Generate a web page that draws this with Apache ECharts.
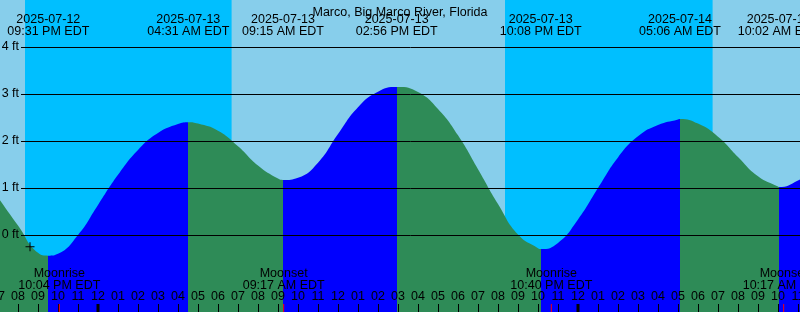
<!DOCTYPE html>
<html><head><meta charset="utf-8">
<script src="https://cdn.jsdelivr.net/npm/echarts@6/dist/echarts.min.js"></script>
<style>html,body{margin:0;padding:0;background:#87CEEB}#c{width:800px;height:312px}</style>
</head><body><div id="c"></div>
<script>
// ---- data (hours relative to 2025-07-13 00:00 EDT, heights in ft) ----
const titleText = 'Marco, Big Marco River, Florida';
const hourTimes = [-5,-4,-3,-2,-1,0,1,2,3,4,5,6,7,8,9,10,11,12,13,14,15,16,17,18,19,20,21,22,23,24,25,26,27,28,29,30,31,32,33,34,35,36];
const hourHeights = [0.80,0.20,-0.38,-0.40,0.00,0.64,1.28,1.81,2.17,2.36,2.37,2.22,1.89,1.48,1.20,1.22,1.54,2.15,2.72,3.05,3.15,3.04,2.68,2.12,1.40,0.66,0.01,-0.28,-0.17,0.33,1.00,1.65,2.10,2.34,2.46,2.37,2.09,1.66,1.25,1.03,1.16,1.45];
const extremeTimes = [-2.4833, 4.5167, 9.25, 14.9333, 22.1333, 29.1, 34.0333];
const extremeHeights = [-0.44, 2.40, 1.17, 3.15, -0.30, 2.47, 1.02];
const extremeDates = ['2025-07-12','2025-07-13','2025-07-13','2025-07-13','2025-07-13','2025-07-14','2025-07-14'];
const extremeClock = ['09:31 PM EDT','04:31 AM EDT','09:15 AM EDT','02:56 PM EDT','10:08 PM EDT','05:06 AM EDT','10:02 AM EDT'];
const nightStart = [-3.65, 20.35];
const nightEnd = [6.68, 30.73];
const moonTimes = [-1.9333, 9.2833, 22.6667, 34.2833];
const moonEvents = ['Moonrise','Moonset','Moonrise','Moonset'];
const moonClock = ['10:04 PM EDT','09:17 AM EDT','10:40 PM EDT','10:17 AM EDT'];
const midnightTimes = [0, 24];
const nowTime = [-3.4];
const nowHeight = [-0.25];
const xMin = -5, xMax = 36;
const yMin = -1.638, yMax = 5.0;
const ftMin = 0, ftMax = 4;

// ---- build ----
const FONT = '"Liberation Sans", Arial, sans-serif';
const GREEN = '#2E8B57', BLUE = '#0000FF';
const tidePts = hourTimes.map((t,i)=>[t, hourHeights[i]])
  .concat(extremeTimes.map((t,i)=>[t, extremeHeights[i]]))
  .sort((a,b)=>a[0]-b[0]);
const isHigh = i => (i+1 < extremeHeights.length) ? extremeHeights[i] > extremeHeights[i+1] : extremeHeights[i] > extremeHeights[i-1];
const pieces = [];
extremeTimes.forEach((t,i)=>{
  const c = isHigh(i) ? BLUE : GREEN;
  if (i === 0) pieces.push({lt: t, color: c});
  else pieces.push({gte: extremeTimes[i-1], lt: t, color: c});
});
const last = extremeTimes.length-1;
pieces.push({gte: extremeTimes[last], color: isHigh(last) ? GREEN : BLUE});

const hourFmt = v => { let h = ((v % 12) + 12) % 12; if (h === 0) h = 12; return String(h).padStart(2,'0'); };

const chart = echarts.init(document.getElementById('c'), null, {renderer:'canvas'});
chart.setOption({
  animation: false,
  backgroundColor: '#87CEEB',
  title: {text: titleText, left: 'center', top: 1, textStyle: {fontFamily: FONT, fontSize: 12.5, fontWeight: 'normal', color: '#000'}},
  grid: [
    {left: -2, right: -18, top: 0, bottom: 0, outerBoundsMode: 'none', containLabel: false},
    {left: 21, right: 0, top: 47, bottom: 77, outerBoundsMode: 'none', containLabel: false}
  ],
  xAxis: [
    {type: 'value', gridIndex: 0, min: xMin, max: xMax, interval: 1, z: 4,
     axisLine: {show: false, onZero: false}, splitLine: {show: false},
     axisTick: {show: true, inside: true, length: 8, lineStyle: {color: '#000', width: 1}},
     axisLabel: {show: true, inside: true, interval: 0, margin: 9, formatter: hourFmt, color: '#000', fontFamily: FONT, fontSize: 12.5, hideOverlap: false}},
    {type: 'value', gridIndex: 1, min: 0, max: 1, show: false}
  ],
  yAxis: [
    {type: 'value', gridIndex: 0, min: yMin, max: yMax, show: false},
    {type: 'value', gridIndex: 1, min: ftMin, max: ftMax, interval: 1, z: 3,
     axisLine: {show: false}, axisTick: {show: false},
     splitLine: {show: true, lineStyle: {color: '#000', width: 1}},
     axisLabel: {formatter: '{value} ft', margin: 2, color: '#000', fontFamily: FONT, fontSize: 12.5}}
  ],
  visualMap: {type: 'piecewise', show: false, dimension: 0, seriesIndex: 1, pieces: pieces},
  series: [
    {type: 'custom', xAxisIndex: 0, yAxisIndex: 0, z: 0, silent: true,
     data: nightStart.map((s,i)=>[s, nightEnd[i], yMin]),
     encode: {x: [0,1], y: 2},
     renderItem: (p, api) => {
       const a = api.coord([api.value(0), yMax]);
       const b = api.coord([api.value(1), yMin]);
       return {type: 'rect', shape: {x: a[0], y: a[1], width: b[0]-a[0], height: b[1]-a[1]}, style: {fill: '#00BFFF'}};
     }},
    {type: 'line', xAxisIndex: 0, yAxisIndex: 0, z: 2, data: tidePts, smooth: 0.5,
     showSymbol: false, silent: true, lineStyle: {width: 0, opacity: 0},
     areaStyle: {origin: 'start', opacity: 1}},
    {type: 'line', xAxisIndex: 1, yAxisIndex: 1, data: []},
    {type: 'custom', xAxisIndex: 0, yAxisIndex: 0, z: 5, silent: true,
     data: extremeTimes.map((t,i)=>[t, extremeHeights[i]]),
     renderItem: (p, api) => {
       const x = api.coord([api.value(0), 0])[0];
       const i = p.dataIndex;
       return {type: 'group', children: [
         {type: 'text', style: {text: extremeDates[i], x: x, y: 19.5, align: 'center', verticalAlign: 'middle', font: '12.5px ' + FONT, fill: '#000'}},
         {type: 'text', style: {text: extremeClock[i], x: x, y: 31.7, align: 'center', verticalAlign: 'middle', font: '12.5px ' + FONT, fill: '#000'}}
       ]};
     }},
    {type: 'custom', xAxisIndex: 0, yAxisIndex: 0, z: 5, silent: true,
     data: moonTimes.map(t=>[t, 0]),
     renderItem: (p, api) => {
       const x = api.coord([api.value(0), 0])[0];
       const i = p.dataIndex;
       return {type: 'group', children: [
         {type: 'text', style: {text: moonEvents[i], x: x, y: 273.5, align: 'center', verticalAlign: 'middle', font: '12.5px ' + FONT, fill: '#000'}},
         {type: 'text', style: {text: moonClock[i], x: x, y: 285.5, align: 'center', verticalAlign: 'middle', font: '12.5px ' + FONT, fill: '#000'}},
         {type: 'rect', shape: {x: x-0.5, y: 304, width: 1, height: 8}, style: {fill: '#FF0000'}}
       ]};
     }},
    {type: 'custom', xAxisIndex: 0, yAxisIndex: 0, z: 5, silent: true,
     data: midnightTimes.map(t=>[t, 0]),
     renderItem: (p, api) => {
       const x = api.coord([api.value(0), 0])[0];
       return {type: 'rect', shape: {x: x-1.5, y: 304, width: 3, height: 8}, style: {fill: '#000'}};
     }},
    {type: 'custom', xAxisIndex: 0, yAxisIndex: 0, z: 5, silent: true,
     data: nowTime.map((t,i)=>[t, nowHeight[i]]),
     renderItem: (p, api) => {
       const c = api.coord([api.value(0), api.value(1)]);
       return {type: 'group', children: [
         {type: 'line', shape: {x1: c[0]-4.5, y1: c[1], x2: c[0]+4.5, y2: c[1]}, style: {stroke: '#000', lineWidth: 1}},
         {type: 'line', shape: {x1: c[0], y1: c[1]-4.5, x2: c[0], y2: c[1]+4.5}, style: {stroke: '#000', lineWidth: 1}}
       ]};
     }}
  ]
});
</script>
</body></html>
